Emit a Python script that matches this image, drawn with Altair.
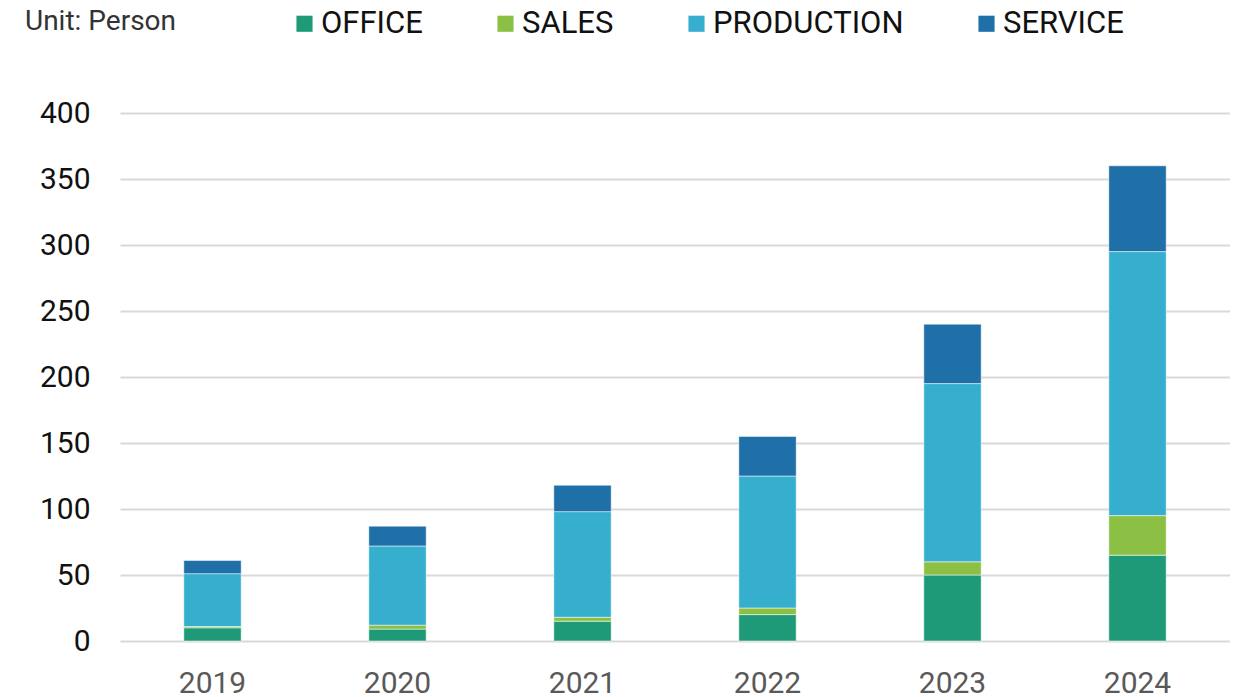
import altair as alt
import pandas as pd

years = ["2019", "2020", "2021", "2022", "2023", "2024"]
categories = ["OFFICE", "SALES", "PRODUCTION", "SERVICE"]
office = [10, 9, 15, 20, 50, 65]
sales = [1, 3, 3, 5, 10, 30]
production = [40, 60, 80, 100, 135, 200]
service = [10, 15, 20, 30, 45, 65]
colors = ["#1E9A78", "#8BC045", "#36AECE", "#1F6FA8"]
unit_label = "Unit: Person"

series = {"OFFICE": office, "SALES": sales, "PRODUCTION": production, "SERVICE": service}
rows = []
for ci, cat in enumerate(categories):
    for yi, yr in enumerate(years):
        rows.append({"year": yr, "category": cat, "value": series[cat][yi], "idx": ci})
df = pd.DataFrame(rows)

FONT = "Roboto"

bars = alt.Chart(df).mark_bar(stroke="white", strokeOpacity=0.5, strokeWidth=1).encode(
    x=alt.X("year:N", sort=years, title=None,
            scale=alt.Scale(paddingInner=0.69, paddingOuter=0.345),
            axis=alt.Axis(labelAngle=0, labelFontSize=30, labelFont=FONT, labelColor="#595959",
                          labelPadding=27, ticks=False, domain=False, grid=False)),
    y=alt.Y("value:Q", stack="zero", title=None,
            scale=alt.Scale(domain=[0, 400]),
            axis=alt.Axis(values=[0, 50, 100, 150, 200, 250, 300, 350, 400],
                          labelFontSize=30, labelFont=FONT, labelColor="#111111",
                          labelPadding=30, ticks=False, domain=False,
                          gridColor="#D9D9D9", gridWidth=2)),
    color=alt.Color("category:N", sort=categories,
                    scale=alt.Scale(domain=categories, range=colors),
                    legend=alt.Legend(title=None, orient="none", direction="horizontal",
                                      legendX=169, legendY=-105, symbolType="square",
                                      symbolSize=260, symbolStrokeWidth=0,
                                      labelFontSize=31, labelFont=FONT, labelColor="#111111",
                                      labelLimit=0, labelOffset=1, columnPadding=67)),
    order=alt.Order("idx:Q", sort="ascending"),
)

unit = alt.Chart(pd.DataFrame({"t": [unit_label]})).mark_text(
    align="left", baseline="top", fontSize=28, font=FONT, color="#333333"
).encode(x=alt.value(-95), y=alt.value(-105), text="t:N")

chart = alt.layer(bars, unit).properties(
    width=1110, height=528,
    autosize=alt.AutoSizeParams(type="none"),
    padding={"left": 112, "top": 105, "right": 0, "bottom": 60},
).configure_view(stroke=None)

chart.save("out.html", embed_options={"renderer": "svg", "actions": False})
